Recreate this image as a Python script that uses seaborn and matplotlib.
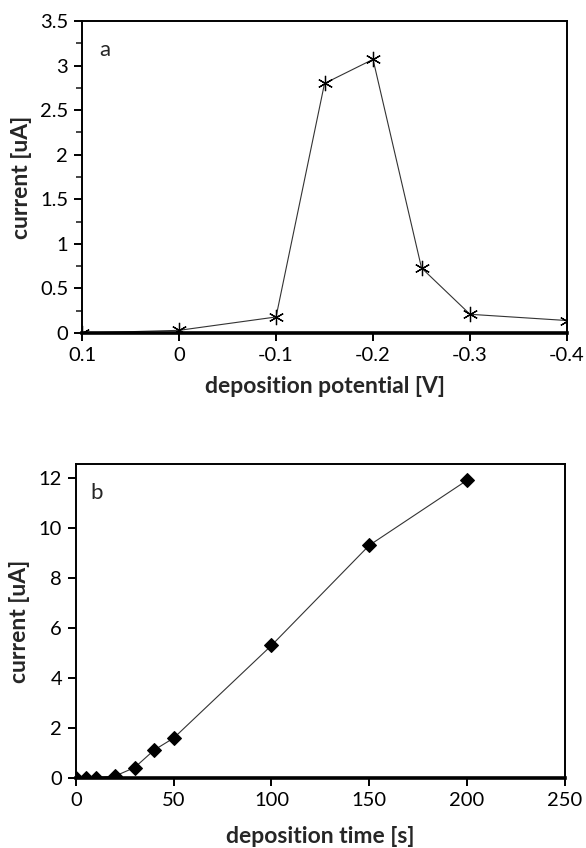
import matplotlib
matplotlib.use("Agg")
import matplotlib.pyplot as plt
import seaborn as sns
import pandas as pd

# panel a: stripping current vs deposition potential
potential = [0.1, 0.0, -0.1, -0.15, -0.2, -0.25, -0.3, -0.4]
current_a = [0.0, 0.03, 0.18, 2.80, 3.07, 0.73, 0.21, 0.14]

# panel b: stripping current vs deposition time
dep_time = [0, 5, 10, 20, 30, 40, 50, 100, 150, 200]
current_b = [0.0, 0.02, 0.02, 0.08, 0.42, 1.12, 1.60, 5.30, 9.30, 11.90]

sns.set_style("ticks")
plt.rcParams["font.family"] = ["Lato", "DejaVu Sans"]

fig = plt.figure(figsize=(5.86, 8.48), dpi=100)
ax_a = fig.add_axes([0.140, 0.6073, 0.8276, 0.3679])
ax_b = fig.add_axes([0.1297, 0.0825, 0.834, 0.3703])

df_a = pd.DataFrame({"potential": potential, "current": current_a})
sns.lineplot(data=df_a, x="potential", y="current", ax=ax_a, color="#333333",
             linewidth=0.8, marker=(6, 2, 0), markersize=11,
             markeredgecolor="black", markeredgewidth=0.9, sort=False)
ax_a.set_xlim(0.1, -0.4)
ax_a.set_ylim(0, 3.5)
ax_a.set_xticks([0.1, 0, -0.1, -0.2, -0.3, -0.4])
ax_a.set_xticklabels(["0.1", "0", "-0.1", "-0.2", "-0.3", "-0.4"])
ax_a.set_yticks([0, 0.5, 1, 1.5, 2, 2.5, 3, 3.5])
ax_a.set_yticklabels(["0", "0.5", "1", "1.5", "2", "2.5", "3", "3.5"])
ax_a.set_yticks([0.25, 0.75, 1.25, 1.75, 2.25, 2.75, 3.25], minor=True)
ax_a.set_xlabel("deposition potential [V]", fontsize=16.5, fontweight="bold", labelpad=9)
ax_a.set_ylabel("current [uA]", fontsize=16.5, fontweight="bold", labelpad=6)
ax_a.text(0.035, 0.94, "a", transform=ax_a.transAxes, fontsize=16, va="top")

df_b = pd.DataFrame({"time": dep_time, "current": current_b})
sns.lineplot(data=df_b, x="time", y="current", ax=ax_b, color="#333333",
             linewidth=0.8, marker="D", markersize=7,
             markerfacecolor="black", markeredgecolor="black")
ax_b.set_xlim(0, 250)
ax_b.set_ylim(0, 12.55)
ax_b.set_xticks([0, 50, 100, 150, 200, 250])
ax_b.set_yticks([0, 2, 4, 6, 8, 10, 12])
ax_b.set_xlabel("deposition time [s]", fontsize=16.5, fontweight="bold", labelpad=12)
ax_b.set_ylabel("current [uA]", fontsize=16.5, fontweight="bold", labelpad=6)
ax_b.text(0.03, 0.94, "b", transform=ax_b.transAxes, fontsize=16, va="top")

for ax in (ax_a, ax_b):
    for side in ("top", "right", "left"):
        ax.spines[side].set_linewidth(1.4)
        ax.spines[side].set_color("black")
    ax.spines["bottom"].set_linewidth(2.6)
    ax.spines["bottom"].set_color("black")
    ax.tick_params(axis="both", which="major", direction="out", length=6,
                   width=1.4, labelsize=14.5, colors="black", pad=4)
    ax.tick_params(axis="y", which="minor", direction="out", length=4, width=1.2)
    ax.grid(False)

fig.savefig("out.png", dpi=100)
